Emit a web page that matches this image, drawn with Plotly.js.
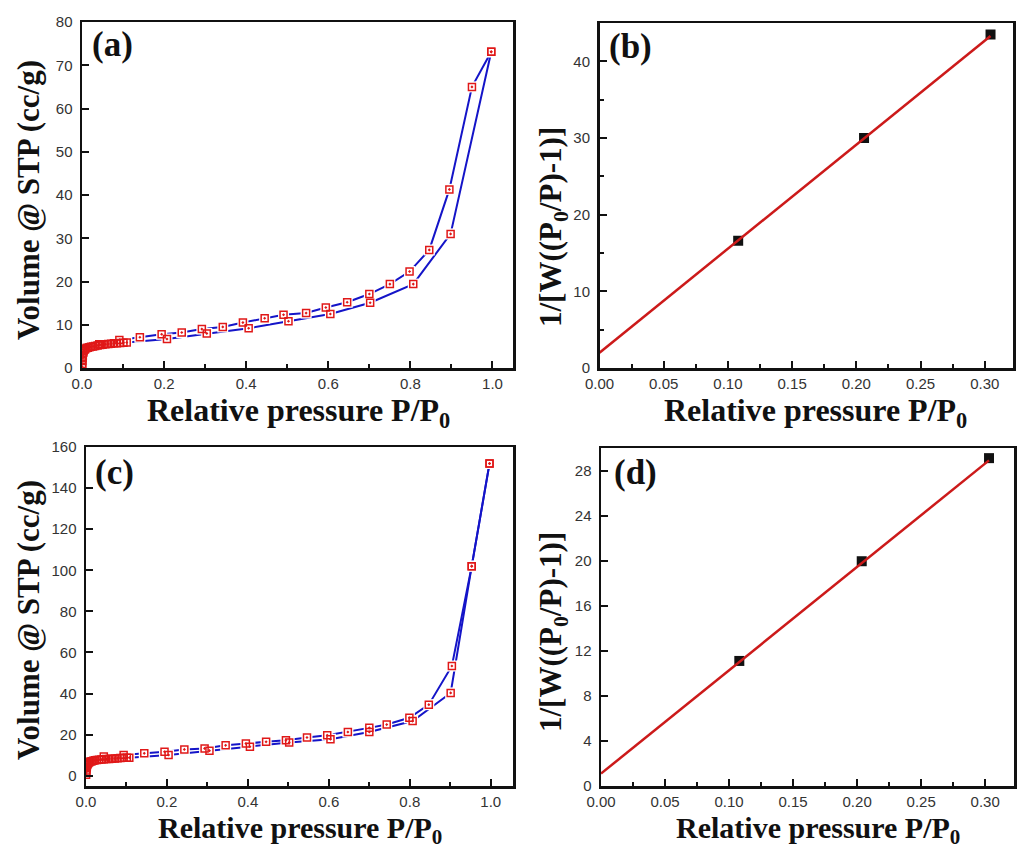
<!DOCTYPE html>
<html>
<head>
<meta charset="utf-8">
<script src="https://cdn.plot.ly/plotly-3.0.1.min.js"></script>
<style>html,body{margin:0;padding:0;background:#fff;}#chart{width:1017px;height:849px;}</style>
</head>
<body>
<div id="chart"></div>
<script>
// ---------- Data ----------
// (a) isotherm, sample 1
const aAdsX = [0.0003, 0.0006, 0.001, 0.0015, 0.002, 0.003, 0.004, 0.006, 0.008, 0.011, 0.014, 0.018, 0.022, 0.027, 0.032, 0.038, 0.044, 0.050, 0.057, 0.064, 0.071, 0.078, 0.085, 0.093, 0.101, 0.109, 0.207, 0.304, 0.406, 0.503, 0.605, 0.702, 0.807, 0.898, 0.997];
const aAdsY = [0.3, 0.9, 1.6, 2.3, 2.9, 3.5, 3.9, 4.2, 4.4, 4.6, 4.7, 4.8, 4.9, 5.0, 5.1, 5.2, 5.3, 5.4, 5.5, 5.55, 5.6, 5.7, 5.75, 5.8, 5.85, 5.9, 6.7, 8.0, 9.2, 10.8, 12.5, 15.1, 19.4, 31.0, 73.1];
const aDesX = [0.997, 0.950, 0.895, 0.846, 0.798, 0.750, 0.700, 0.646, 0.594, 0.546, 0.491, 0.445, 0.392, 0.343, 0.292, 0.243, 0.194, 0.141, 0.091, 0.042];
const aDesY = [73.1, 65.0, 41.3, 27.3, 22.3, 19.4, 17.1, 15.2, 14.0, 12.7, 12.3, 11.5, 10.5, 9.5, 9.0, 8.2, 7.8, 7.1, 6.5, 5.5];

// (b) BET plot, sample 1
const bX = [0.108, 0.206, 0.3045];
const bY = [16.6, 30.0, 43.5];
const bFitX = [0, 0.3045];
const bFitY = [2.0, 43.3];

// (c) isotherm, sample 2
const cAdsX = [0.0003, 0.0006, 0.001, 0.0015, 0.002, 0.003, 0.004, 0.006, 0.008, 0.011, 0.014, 0.018, 0.022, 0.027, 0.032, 0.038, 0.044, 0.050, 0.057, 0.064, 0.071, 0.078, 0.085, 0.093, 0.101, 0.107, 0.204, 0.305, 0.405, 0.502, 0.604, 0.700, 0.807, 0.901, 0.953, 0.997];
const cAdsY = [0.5, 1.5, 2.6, 3.6, 4.4, 5.2, 5.7, 6.2, 6.6, 6.9, 7.1, 7.3, 7.5, 7.6, 7.8, 7.9, 8.0, 8.1, 8.2, 8.3, 8.4, 8.5, 8.6, 8.7, 8.75, 8.8, 10.1, 12.2, 14.1, 16.2, 17.8, 21.3, 26.6, 40.3, 102.0, 152.0];
const cDesX = [0.997, 0.953, 0.904, 0.847, 0.799, 0.743, 0.700, 0.647, 0.596, 0.546, 0.494, 0.445, 0.395, 0.345, 0.293, 0.243, 0.194, 0.144, 0.093, 0.044];
const cDesY = [152.0, 102.0, 53.4, 34.6, 28.2, 24.9, 23.3, 21.3, 19.7, 18.6, 17.3, 16.5, 15.7, 14.8, 13.3, 12.8, 11.7, 10.9, 10.1, 9.3];

// (d) BET plot, sample 2
const dX = [0.108, 0.2036, 0.303];
const dY = [11.1, 19.95, 29.1];
const dFitX = [0, 0.303];
const dFitY = [1.1, 28.9];

// Text
const xTitle = 'Relative pressure P/P<sub>0</sub>';
const volTitle = 'Volume @ STP (cc/g)';
const betTitle = '1/[W((P<sub>0</sub>/P)-1)]';
const panelLabels = ['(a)', '(b)', '(c)', '(d)'];

// ---------- Styles ----------
const BLUE = '#1414c8';
const RED = '#e01818';
const FITRED = '#cc1a1a';
const tickFont = {family: 'Liberation Sans, Arial, sans-serif', size: 15, color: '#333'};
const xTitleFont = {family: 'Liberation Serif, Times New Roman, serif', size: 32, color: '#111', weight: 'bold'};
const xTitleFontLow = {family: 'Liberation Serif, Times New Roman, serif', size: 30, color: '#111', weight: 'bold'};
const yTitleFont = {family: 'Liberation Serif, Times New Roman, serif', size: 31, color: '#111', weight: 'bold'};
const labelFont = {family: 'Liberation Serif, Times New Roman, serif', size: 35, color: '#111', weight: 'bold'};

function isoTraces(branches, xa, ya) {
  const lines = [], gaps = [], marks = [];
  branches.forEach(([x, y]) => {
    lines.push({x, y, xaxis: xa, yaxis: ya, mode: 'lines', line: {color: BLUE, width: 2}, hoverinfo: 'skip'});
    gaps.push({x, y, xaxis: xa, yaxis: ya, mode: 'markers', marker: {symbol: 'square', size: 11, color: '#fff', line: {width: 0}}, hoverinfo: 'skip'});
    marks.push({x, y, xaxis: xa, yaxis: ya, mode: 'markers', marker: {symbol: 'square-open-dot', size: 7, color: RED, line: {width: 1.5, color: RED}}});
  });
  return lines.concat(gaps, marks);
}

function betTraces(x, y, fx, fy, xa, ya) {
  return [
    {x, y, xaxis: xa, yaxis: ya, mode: 'markers', marker: {symbol: 'square', size: 10, color: '#111'}},
    {x: fx, y: fy, xaxis: xa, yaxis: ya, mode: 'lines', line: {color: FITRED, width: 2.5}}
  ];
}

const data = [].concat(
  isoTraces([[aAdsX, aAdsY], [aDesX, aDesY]], 'x', 'y'),
  betTraces(bX, bY, bFitX, bFitY, 'x2', 'y2'),
  isoTraces([[cAdsX, cAdsY], [cDesX, cDesY]], 'x3', 'y3'),
  betTraces(dX, dY, dFitX, dFitY, 'x4', 'y4')
);

function xax(domain, range, dtick, minorDtick, anchor, fmt) {
  return {
    domain, range, anchor, dtick, tick0: 0, tickformat: fmt,
    ticks: 'inside', ticklen: 7, tickwidth: 2, tickcolor: '#111',
    minor: {ticks: 'inside', dtick: minorDtick, ticklen: 4, tickwidth: 2, tickcolor: '#111'},
    showline: true, linecolor: '#111', linewidth: 2.5, mirror: true,
    showgrid: false, zeroline: false, tickfont: tickFont
  };
}
function yax(domain, range, dtick, minorDtick, anchor) {
  const ax = {
    domain, range, anchor, dtick, tick0: 0,
    ticks: 'inside', ticklen: 7, tickwidth: 2, tickcolor: '#111',
    showline: true, linecolor: '#111', linewidth: 2.5, mirror: true,
    showgrid: false, zeroline: false, tickfont: tickFont, ticklabelstandoff: 4
  };
  if (minorDtick) ax.minor = {ticks: 'inside', dtick: minorDtick, ticklen: 4, tickwidth: 2, tickcolor: '#111'};
  return ax;
}

const W = 1017, H = 849;
const px = v => v / W, py = v => 1 - v / H;

function ann(text, x, y, font, angle) {
  return {text, x: px(x), y: py(y), xref: 'paper', yref: 'paper', textangle: angle || 0, showarrow: false, font, xanchor: 'center', yanchor: 'middle'};
}

const layout = {
  width: W, height: H,
  margin: {l: 0, r: 0, t: 0, b: 0},
  paper_bgcolor: '#fff', plot_bgcolor: '#fff',
  showlegend: false,
  xaxis:  xax([px(82), px(513)], [0, 1.05], 0.2, 0.1, 'y', '.1f'),
  yaxis:  yax([py(368), py(22)], [0, 80], 10, null, 'x'),
  xaxis2: xax([px(599.5), px(1013)], [0, 0.322], 0.05, 0.025, 'y2', '.2f'),
  yaxis2: yax([py(368), py(23)], [0, 45], 10, 5, 'x2'),
  xaxis3: xax([px(86), px(513)], [0, 1.055], 0.2, 0.1, 'y3', '.1f'),
  yaxis3: yax([py(786), py(447)], [-5, 160], 20, null, 'x3'),
  xaxis4: xax([px(601), px(1014)], [0, 0.3225], 0.05, 0.025, 'y4', '.2f'),
  yaxis4: yax([py(786), py(448)], [0, 30], 4, null, 'x4'),
  annotations: [
    ann(xTitle, 298, 412, xTitleFont),
    ann(xTitle, 815, 412, xTitleFont),
    ann(xTitle, 300, 830, xTitleFontLow),
    ann(xTitle, 818, 830, xTitleFontLow),
    ann(volTitle, 28, 200, yTitleFont, -90),
    ann(betTitle, 553, 227, yTitleFont, -90),
    ann(volTitle, 28, 620, yTitleFont, -90),
    ann(betTitle, 553, 632, yTitleFont, -90),
    ann(panelLabels[0], 112, 44, labelFont),
    ann(panelLabels[1], 630, 47, labelFont),
    ann(panelLabels[2], 114, 473, labelFont),
    ann(panelLabels[3], 635, 473, labelFont)
  ]
};

Plotly.newPlot('chart', data, layout, {staticPlot: true, displayModeBar: false});
</script>
</body>
</html>
